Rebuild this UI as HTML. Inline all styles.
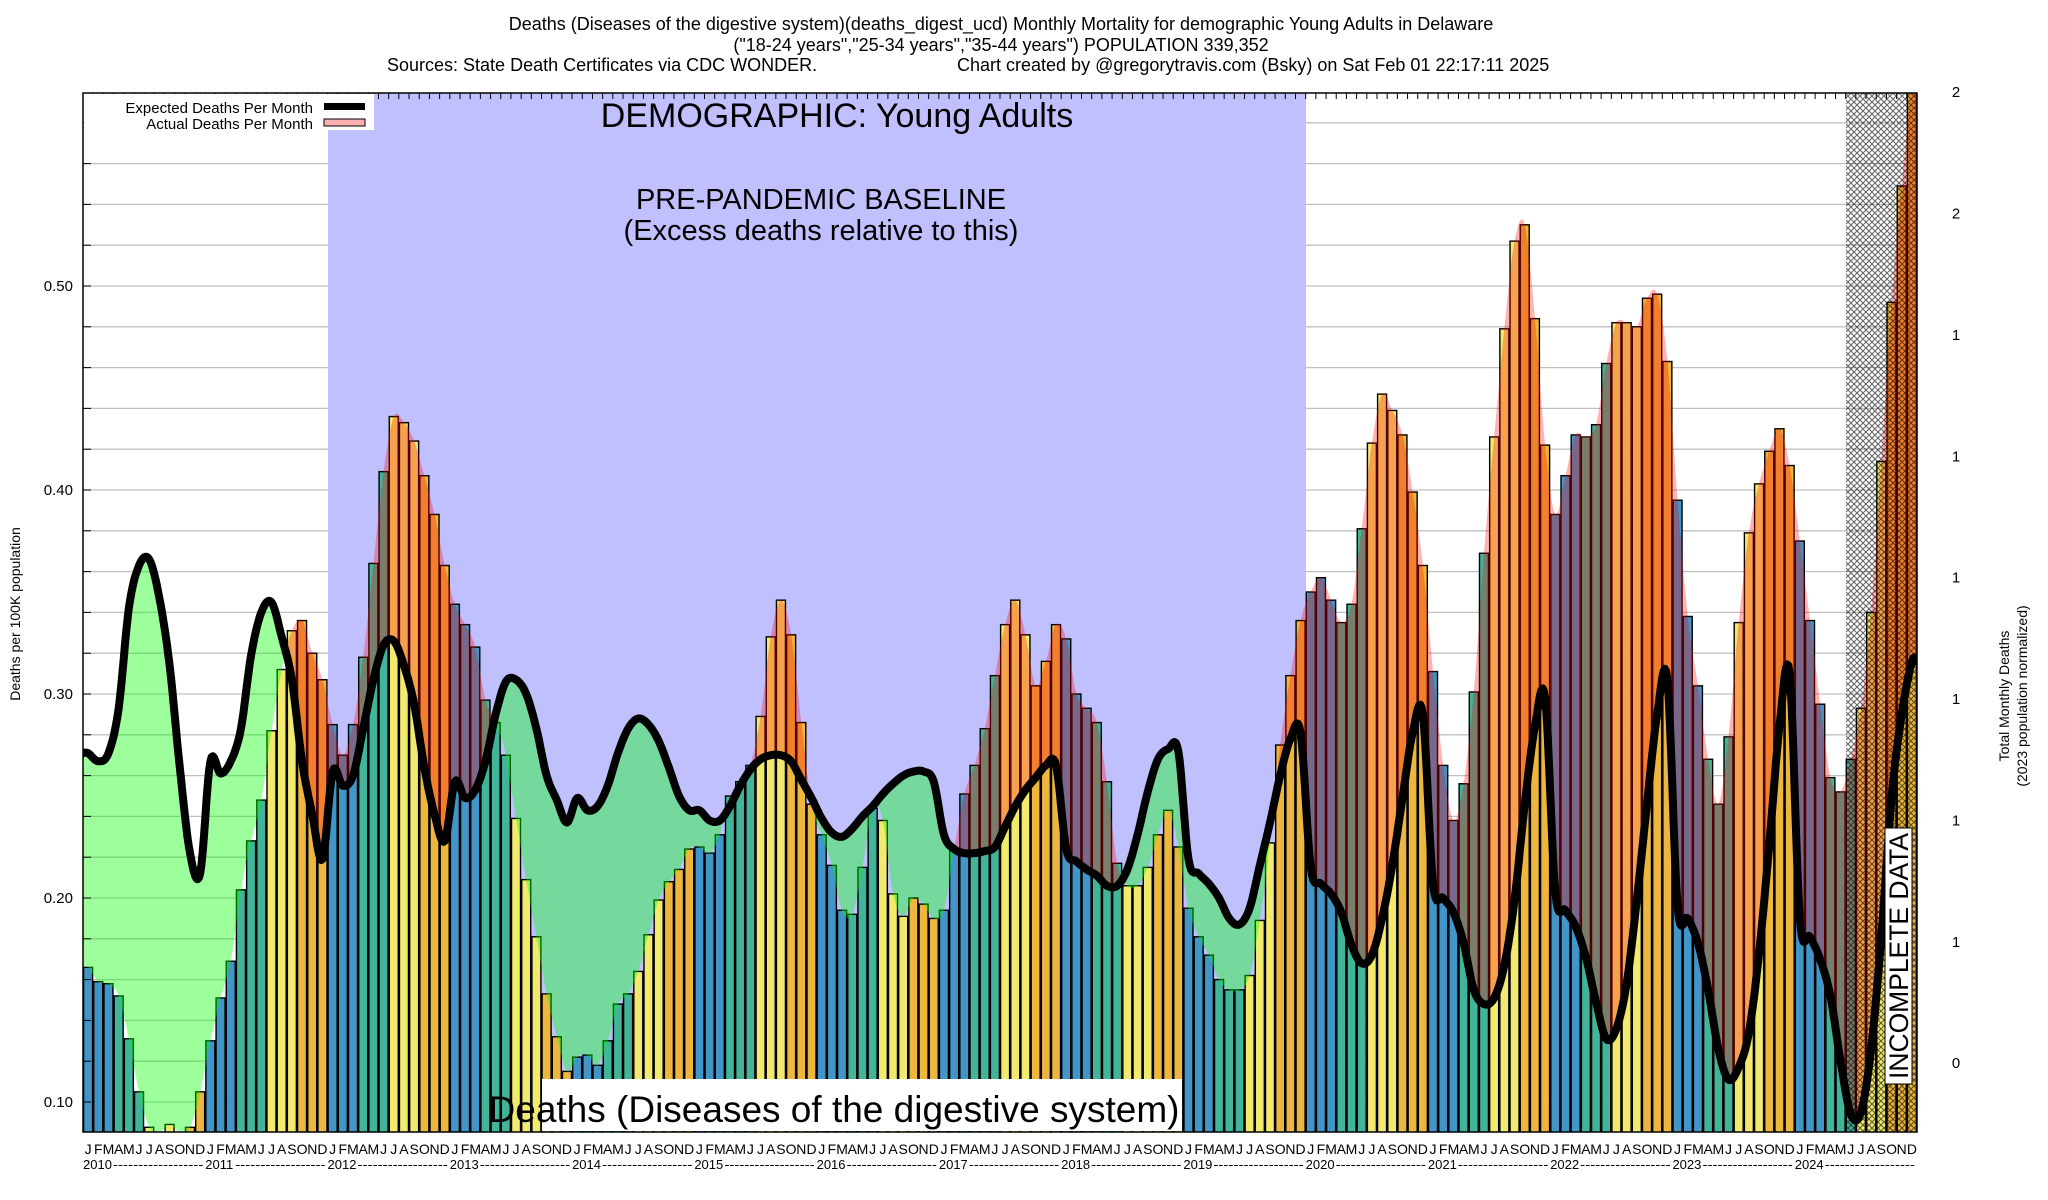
<!DOCTYPE html>
<html><head><meta charset="utf-8">
<style>
html,body{margin:0;padding:0;background:#fff;}
svg{display:block;font-family:"Liberation Sans",sans-serif;}
</style></head>
<body>
<svg id="chart" xmlns="http://www.w3.org/2000/svg" width="2048" height="1200" viewBox="0 0 2048 1200">
<defs>
<clipPath id="plotClip"><rect x="83" y="93" width="1834" height="1039"/></clipPath>
<pattern id="hatch" width="6" height="6" patternUnits="userSpaceOnUse">
<path d="M0,0 L6,6 M6,0 L0,6" stroke="#000" stroke-width="1.1" opacity="0.6"/>
</pattern>
</defs>
<text x="1001" y="30" font-size="18" text-anchor="middle">Deaths (Diseases of the digestive system)(deaths_digest_ucd) Monthly Mortality for demographic Young Adults in Delaware</text>
<text x="1001" y="51" font-size="18" text-anchor="middle">("18-24 years","25-34 years","35-44 years") POPULATION 339,352</text>
<text x="387" y="71" font-size="18">Sources: State Death Certificates via CDC WONDER.</text>
<text x="957" y="71" font-size="18">Chart created by @gregorytravis.com (Bsky) on Sat Feb 01 22:17:11 2025</text>
<g id="grid"></g>
<rect x="328" y="93" width="978" height="1039" fill="#c0c0ff"/>
<g id="bars" clip-path="url(#plotClip)"></g>
<g id="fills" clip-path="url(#plotClip)"></g>
<rect x="1846" y="93" width="71" height="1039" fill="url(#hatch)"/>
<g id="expline" clip-path="url(#plotClip)"></g>
<g id="axes"></g>
<rect x="83" y="93" width="1834" height="1039" fill="none" stroke="#000" stroke-width="1.5"/>
<g>
<rect x="84" y="94" width="290" height="36" fill="#fff"/>
<text x="313" y="113" font-size="15" text-anchor="end">Expected Deaths Per Month</text>
<rect x="324" y="103" width="41" height="7" fill="#000"/>
<text x="313" y="129" font-size="15" text-anchor="end">Actual Deaths Per Month</text>
<rect x="324" y="119" width="41" height="7" fill="#ffb0b0" stroke="#000" stroke-width="1"/>
</g>
<text x="837" y="127" font-size="34" text-anchor="middle">DEMOGRAPHIC: Young Adults</text>
<text x="821" y="209" font-size="29" text-anchor="middle">PRE-PANDEMIC BASELINE</text>
<text x="821" y="240" font-size="29" text-anchor="middle">(Excess deaths relative to this)</text>
<rect x="542" y="1079" width="640" height="52" fill="#fff"/>
<text x="834" y="1122" font-size="37" text-anchor="middle">Deaths (Diseases of the digestive system)</text>
<g transform="translate(1898,956) rotate(-90)">
<rect x="-128" y="-13" width="256" height="27" fill="#fff" stroke="#000" stroke-width="1"/>
<text x="0" y="10" font-size="27" text-anchor="middle" textLength="246" lengthAdjust="spacingAndGlyphs">INCOMPLETE DATA</text>
</g>
<text transform="translate(20,614) rotate(-90)" font-size="14" text-anchor="middle">Deaths per 100K population</text>
<text transform="translate(2009,696) rotate(-90)" font-size="14" text-anchor="middle">Total Monthly Deaths</text>
<text transform="translate(2027,696) rotate(-90)" font-size="14" text-anchor="middle">(2023 population normalized)</text>
</svg>
<script>
const monthLetters=['J','F','M','A','M','J','J','A','S','O','N','D'];
const yearLabels=[2010,2011,2012,2013,2014,2015,2016,2017,2018,2019,2020,2021,2022,2023,2024];
const actualRates=[
.166,.159,.158,.152,.131,.105,.0876,.085,.089,.085,.0876,.105,
.130,.151,.169,.204,.228,.248,.282,.312,.331,.336,.320,.307,
.285,.270,.285,.318,.364,.409,.436,.433,.424,.407,.388,.363,
.344,.334,.323,.297,.286,.270,.239,.209,.181,.153,.132,.115,
.122,.123,.118,.130,.148,.153,.164,.182,.199,.208,.214,.224,
.225,.222,.231,.250,.257,.265,.289,.328,.346,.329,.286,.246,
.231,.216,.194,.192,.215,.244,.238,.202,.191,.200,.197,.190,
.194,.224,.251,.265,.283,.309,.334,.346,.329,.304,.316,.334,
.327,.300,.293,.286,.257,.217,.206,.206,.215,.231,.243,.225,
.195,.181,.172,.160,.155,.155,.162,.189,.227,.275,.309,.336,
.350,.357,.346,.335,.344,.381,.423,.447,.439,.427,.399,.363,
.311,.265,.238,.256,.301,.369,.426,.479,.522,.530,.484,.422,
.388,.407,.427,.426,.432,.462,.482,.482,.480,.494,.496,.463,
.395,.338,.304,.268,.246,.279,.335,.379,.403,.419,.430,.412,
.375,.336,.295,.259,.252,.268,.293,.340,.414,.492,.549,.600];
const expectedRates=[
.271,.267,.271,.293,.342,.363,.366,.347,.314,.264,.222,.212,
.267,.261,.267,.283,.319,.340,.345,.328,.307,.267,.241,.219,
.262,.255,.260,.283,.307,.324,.326,.314,.295,.264,.241,.228,
.257,.249,.253,.267,.290,.306,.307,.300,.283,.260,.248,.237,
.249,.243,.245,.255,.271,.283,.288,.285,.277,.264,.250,.243,
.243,.238,.238,.245,.255,.263,.268,.270,.270,.267,.258,.249,
.239,.232,.230,.234,.240,.245,.251,.256,.260,.262,.262,.257,
.231,.224,.222,.222,.223,.225,.235,.245,.253,.259,.265,.265,
.224,.218,.214,.211,.206,.206,.214,.231,.252,.268,.273,.272,
.219,.212,.207,.200,.190,.187,.195,.216,.237,.260,.278,.281,
.215,.207,.202,.193,.177,.168,.172,.190,.216,.249,.281,.290,
.207,.200,.193,.178,.155,.148,.151,.167,.199,.246,.284,.298,
.203,.194,.186,.171,.149,.131,.136,.158,.199,.246,.290,.307,
.196,.190,.178,.155,.126,.111,.117,.134,.173,.226,.284,.310,
.190,.181,.170,.152,.120,.094,.095,.126,.181,.249,.290,.316];
const leftTickValues=[0.10,0.20,0.30,0.40,0.50];
const gridValues=[0.10,0.12,0.14,0.16,0.18,0.20,0.22,0.24,0.26,0.28,0.30,0.32,0.34,0.36,0.38,0.40,0.42,0.44,0.46,0.48,0.50,0.52,0.54,0.56,0.58];
const rightTickDeaths=[0.4,0.6,0.8,1.0,1.2,1.4,1.6,1.8,2.0];
const rightTickLabels=['0','1','1','1','1','1','1','2','2'];
const axisPopulation=336100;

const NS='http://www.w3.org/2000/svg';
const PL=83,PR=1917,PT=93,PB=1132;
const nMonths=actualRates.length;
const bw=(PR-PL)/nMonths;
function yScale(v){return 1102-(v-0.10)*2040;}
function xLeft(i){return PL+bw*i;}
function xCenter(i){return PL+bw*(i+0.5);}
function mk(tag,attrs,parent){const e=document.createElementNS(NS,tag);for(const k in attrs)e.setAttribute(k,attrs[k]);parent.appendChild(e);return e;}

const baseColors=['#4195c7','#41b49a','#f2e96f','#ecb63f'];

function samplePts(vals){
  const pts=vals.map((v,i)=>[xCenter(i),yScale(v)]);
  const P=[[PL,pts[0][1]]].concat(pts,[[PR,pts[pts.length-1][1]]]);
  const out=[];
  for(let i=0;i<P.length-1;i++){
    const p0=P[Math.max(0,i-1)],p1=P[i],p2=P[i+1],p3=P[Math.min(P.length-1,i+2)];
    for(let s=0;s<8;s++){
      const t=s/8,t2=t*t,t3=t2*t;
      const f=(a,b,c,d)=>0.5*((2*b)+(-a+c)*t+(2*a-5*b+4*c-d)*t2+(-a+3*b-3*c+d)*t3);
      out.push([f(p0[0],p1[0],p2[0],p3[0]),f(p0[1],p1[1],p2[1],p3[1])]);
    }
  }
  out.push(P[P.length-1]);
  return out;
}
function ptsStr(pts){return pts.map(p=>p[0].toFixed(1)+','+p[1].toFixed(1)).join(' ');}

const svg=document.getElementById('chart');
const defs=svg.querySelector('defs');
const grid=document.getElementById('grid');
const bars=document.getElementById('bars');
const fills=document.getElementById('fills');
const expline=document.getElementById('expline');
const axes=document.getElementById('axes');

gridValues.forEach(v=>{
  const l=mk('line',{x1:PL,x2:PR,y1:yScale(v),y2:yScale(v),stroke:'#c0c0c0','stroke-width':1.3},grid);
  
  
  const t=mk('line',{x1:PL,x2:PL+8,y1:yScale(v),y2:yScale(v),stroke:'#000','stroke-width':1},axes);
  
  
});

actualRates.forEach((v,i)=>{
  const q=Math.floor((i%12)/3);
  const r=mk('rect',{x:xLeft(i)+0.6,y:yScale(v),width:bw-1.2,height:PB-yScale(v)+2,fill:baseColors[q],stroke:'#000','stroke-width':1.4},bars);
  
  
});

const aPts=samplePts(actualRates);
const ePts=samplePts(expectedRates);

const cpE=mk('clipPath',{id:'belowExp'},defs);
mk('polygon',{points:ptsStr(ePts)+' '+PR+','+(PB+5)+' '+PL+','+(PB+5)},cpE);
const cpEA=mk('clipPath',{id:'aboveExp'},defs);
mk('polygon',{points:ptsStr(ePts)+' '+PR+','+(PT-5)+' '+PL+','+(PT-5)},cpEA);

const gA=mk('g',{'clip-path':'url(#belowExp)'},fills);
const green=mk('polygon',{points:ptsStr(aPts)+' '+PR+','+(PT-5)+' '+PL+','+(PT-5),fill:'rgba(0,255,0,0.39)'},gA);


const gB=mk('g',{'clip-path':'url(#aboveExp)'},fills);
const pink=mk('polygon',{points:ptsStr(aPts)+' '+PR+','+(PB+5)+' '+PL+','+(PB+5),fill:'rgba(255,0,0,0.3)'},gB);



const el=mk('polyline',{points:ptsStr(ePts),fill:'none',stroke:'#000','stroke-width':8,'stroke-linejoin':'round','stroke-linecap':'round'},expline);



leftTickValues.forEach(v=>{
  const t=mk('text',{x:73,y:yScale(v)+5,'font-size':15,'text-anchor':'end'},axes);
  t.textContent=v.toFixed(2);
  
  
});
rightTickDeaths.forEach((d,k)=>{
  const v=d/(axisPopulation/100000);
  const t=mk('text',{x:1956,y:yScale(v)+5,'font-size':15,'text-anchor':'middle'},axes);
  t.textContent=rightTickLabels[k];
  
  
});
for(let i=0;i<nMonths;i++){
  const tt=mk('line',{x1:xLeft(i),x2:xLeft(i),y1:PT,y2:PT+6,stroke:'#000','stroke-width':1},axes);
  
  
  const m=mk('text',{x:xCenter(i),y:1154,'font-size':14,'text-anchor':'middle'},axes);
  m.textContent=monthLetters[i%12];
  
  
}
yearLabels.forEach((yr,k)=>{
  const x0=xLeft(k*12);
  const t=mk('text',{x:x0,y:1169,'font-size':13},axes);
  t.textContent=String(yr);
  
  
  const d=mk('text',{x:x0+30,y:1169,'font-size':13,textLength:(bw*12-32).toFixed(1),lengthAdjust:'spacingAndGlyphs'},axes);
  d.textContent='------------------';
  
  
});
</script>
</body></html>
